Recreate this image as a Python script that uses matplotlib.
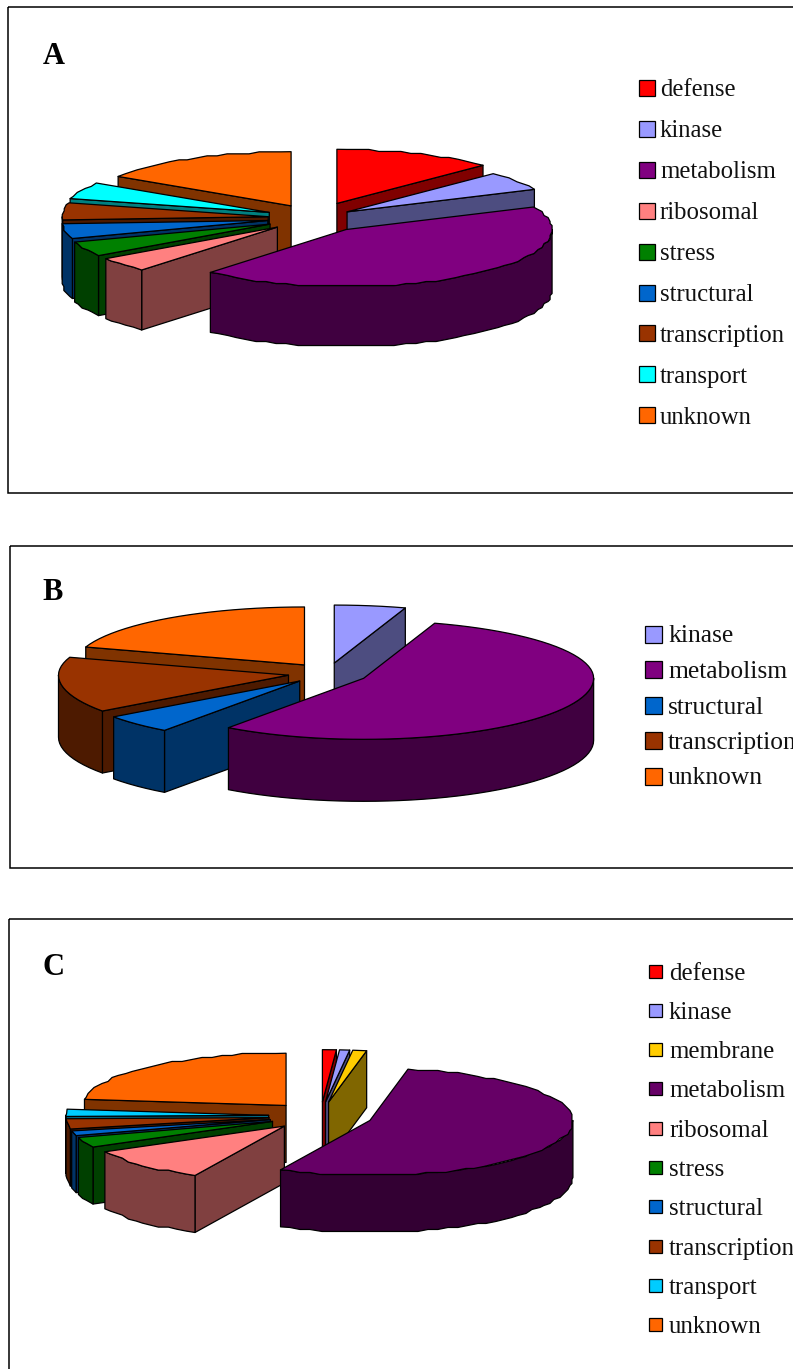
import numpy as np
from matplotlib import pyplot as plt
from matplotlib.patches import Polygon, Rectangle

# functional class shares (percent of genes) for each panel
labels_a = ["defense", "kinase", "metabolism", "ribosomal", "stress", "structural",
            "transcription", "transport", "unknown"]
values_a = [12.5, 5.6, 43.1, 4.2, 4.2, 4.2, 5.0, 5.0, 15.8]
colors_a = ["#FF0000", "#9999FF", "#800080", "#FF8080", "#008000", "#0066CC",
            "#993300", "#00FFFF", "#FF6600"]
explode_a = [57, 39, 52, 50, 50, 48, 47, 50, 50]

labels_b = ["kinase", "metabolism", "structural", "transcription", "unknown"]
values_b = [5.0, 55.0, 5.0, 15.0, 20.0]
colors_b = ["#9999FF", "#800080", "#0066CC", "#993300", "#FF6600"]
explode_b = [40, 40, 40, 40, 40]

labels_c = ["defense", "kinase", "membrane", "metabolism", "ribosomal", "stress",
            "structural", "transcription", "transport", "unknown"]
values_c = [1.1, 0.8, 1.1, 54.2, 10.0, 3.0, 1.4, 3.0, 2.2, 23.1]
colors_c = ["#FF0000", "#9999FF", "#FFCC00", "#660066", "#FF8080", "#008000",
            "#0066CC", "#993300", "#00CCFF", "#FF6600"]
explode_c = [52] * 10

LW = 0.9
BACK = 0.95  # far half of the ellipse is drawn a bit flatter


def shade(color):
    r, g, b = plt.matplotlib.colors.to_rgb(color)
    return (r * 0.5, g * 0.5, b * 0.5)


def rim_xy(ts, rx, ry):
    c = np.cos(ts)
    return rx * np.sin(ts), -ry * c * np.where(c > 0, BACK, 1.0)


def rim(t1, t2, rx, ry, snap):
    # outer arc as a coarse polyline, angles clockwise from 12 o'clock
    ts = np.radians(np.linspace(t1, t2, max(2, int((t2 - t1) / 3) + 1)))
    xs, ys = rim_xy(ts, rx, ry)
    if snap > 0:
        xs[1:-1] = np.round(xs[1:-1] / snap) * snap
        ys[1:-1] = np.round(ys[1:-1] / snap) * snap
    return xs, ys


def pie3d(ax, values, colors, explode, cx, cy, rx, ry, depth, snap):
    values = np.array(values, dtype=float)
    edges = np.concatenate([[0], np.cumsum(values) / values.sum() * 360])
    mids = (edges[:-1] + edges[1:]) / 2
    # back slices first; the slice facing the viewer goes on top of everything
    keys = -np.cos(np.radians(mids)) + 3 * ((edges[:-1] < 180) & (edges[1:] > 180))
    for i in np.argsort(keys):
        t1, t2 = edges[i], edges[i + 1]
        mid = np.radians(mids[i])
        ax0 = cx + explode[i] * np.sin(mid)
        ay0 = cy - explode[i] * ry / rx * np.cos(mid)
        top = colors[i]
        side = shade(top)

        for t, facing in ((t1, np.sin(np.radians(t1)) < 0), (t2, np.sin(np.radians(t2)) > 0)):
            if facing:
                ex, ey = rim_xy(np.radians(t), rx, ry)
                ex, ey = ax0 + ex, ay0 + ey
                ax.add_patch(Polygon([(ax0, ay0), (ex, ey), (ex, ey + depth), (ax0, ay0 + depth)],
                                     fc=side, ec="black", lw=LW, joinstyle="round"))

        w1, w2 = max(t1, 90), min(t2, 270)
        if w2 > w1:
            xs, ys = rim(w1, w2, rx, ry, snap)
            pts = np.column_stack([np.r_[xs, xs[::-1]] + ax0, np.r_[ys, ys[::-1] + depth] + ay0])
            ax.add_patch(Polygon(pts, fc=side, ec="black", lw=LW, joinstyle="round"))

        xs, ys = rim(t1, t2, rx, ry, snap)
        pts = np.column_stack([np.r_[0, xs] + ax0, np.r_[0, ys] + ay0])
        ax.add_patch(Polygon(pts, fc=top, ec="black", lw=LW, joinstyle="round"))


def legend(ax, labels, colors, box_x, box, text_x, y_first, y_step, size):
    for i, (name, col) in enumerate(zip(labels, colors)):
        y = y_first + i * y_step
        ax.add_patch(Rectangle((box_x, y - box / 2), box, box, fc=col, ec="black", lw=LW))
        ax.text(text_x, y, name, fontsize=size, family="Liberation Serif",
                va="center_baseline", ha="left", color="#111111", clip_on=False)


fig = plt.figure(figsize=(7.93, 13.69), dpi=100)
ax = fig.add_axes([0, 0, 1, 1])
ax.set_xlim(0, 793)
ax.set_ylim(1369, 0)
ax.axis("off")

# panel frames run off the right side of the page
for left, top, bottom in ((8, 7, 493), (10, 546, 868), (9, 919, 1400)):
    ax.add_patch(Rectangle((left, top), 900, bottom - top, fc="none", ec="black", lw=1.1))

for letter, x, y in (("A", 43, 53), ("B", 42, 589), ("C", 43, 964)):
    ax.text(x, y, letter, fontsize=22, family="Liberation Serif", weight="bold",
            va="center_baseline", ha="left")

pie3d(ax, values_a, colors_a, explode_a, 315, 218, 206, 57, 60, 2)
pie3d(ax, values_b, colors_b, explode_b, 328, 673.5, 230, 61, 62, 0)
pie3d(ax, values_c, colors_c, explode_c, 320.6, 1116, 203, 55, 57, 2)

legend(ax, labels_a, colors_a, 639, 16, 660, 88, 40.9, 17.8)
legend(ax, labels_b, colors_b, 645, 17, 668, 634, 35.5, 18.4)
legend(ax, labels_c, colors_c, 649, 13, 669, 971, 39.3, 17.9)

fig.savefig("out.png", dpi=100)
